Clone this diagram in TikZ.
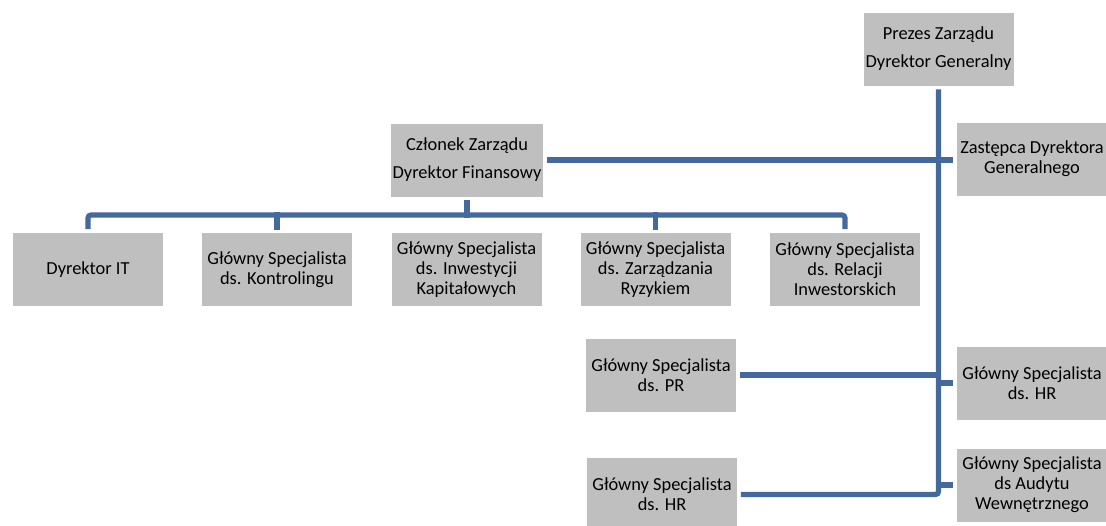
\documentclass[tikz,border=0pt]{standalone}
\usepackage{fontspec}
\setmainfont{Carlito}
\usetikzlibrary{positioning,calc}

\definecolor{linkblue}{HTML}{44699E}
\definecolor{boxgray}{HTML}{BFBFBF}

\tikzset{
    post/.style={fill=boxgray,minimum width=75pt,minimum height=36.5pt,inner sep=1pt,align=center,font=\fontsize{9.2}{10}\selectfont},
    wide/.style={post,font=\fontsize{9.2}{14}\selectfont},
    link/.style={draw=linkblue,line width=2.6pt,rounded corners=1.5pt,line cap=rect},
    gap/.style={shorten <=3pt,shorten >=3pt}
}

\begin{document}
\begin{tikzpicture}[x=0.5pt,y=-0.5pt]

    \useasboundingbox (0,0) rectangle (1106,525);

    % top of the chart
    \node[wide] (prezes) at (938.5,49) {Prezes Zarządu\\Dyrektor Generalny};
    \node[post] (zast) at (1032,159) {Zastępca Dyrektora\\Generalnego};
    \node[wide] (czlonek) at (467,160) {Członek Zarządu\\Dyrektor Finansowy};

    % finance department
    \node[post] (it) at (88,269.5) {Dyrektor IT};
    \node[post] (kontr) at (277,269.5) {Główny Specjalista\\ds. Kontrolingu};
    \node[post] (inwest) at (466.5,269.5) {Główny Specjalista\\ds. Inwestycji\\Kapitałowych};
    \node[post] (ryzyko) at (655.5,269.5) {Główny Specjalista\\ds. Zarządzania\\Ryzykiem};
    \node[post] (relacje) at (845,269.5) {Główny Specjalista\\ds. Relacji\\Inwestorskich};

    % staff of the president
    \node[post] (pr) at (661,375) {Główny Specjalista\\ds. PR};
    \node[post] (hrleft) at (662,494.5) {Główny Specjalista\\ds. HR};
    \node[post] (hrright) at (1032,383) {Główny Specjalista\\ds. HR};
    \node[post] (audyt) at (1032,485) {Główny Specjalista\\ds Audytu\\Wewnętrznego};

    \coordinate (bar) at (467,215);

    % connectors
    \draw[link,gap] (prezes.south) |- (hrleft.east);
    \draw[link,gap] (czlonek.east) -- (czlonek.east -| zast.west);
    \draw[link,shorten >=3pt] (hrright.west -| prezes.south) -- (hrright.west);
    \draw[link,shorten >=3pt] (audyt.west -| prezes.south) -- (audyt.west);
    \draw[link,shorten <=3pt] (pr.east) -- (pr.east -| prezes.south);

    \draw[link,gap] (it.north) |- (bar) -| (relacje.north);
    \draw[link,shorten <=2.5pt] (kontr.north) -- (kontr.north |- bar);
    \draw[link,shorten <=2.5pt] (ryzyko.north) -- (ryzyko.north |- bar);
    \draw[link,shorten <=3pt] (czlonek.south) -- (czlonek.south |- bar);

\end{tikzpicture}
\end{document}
